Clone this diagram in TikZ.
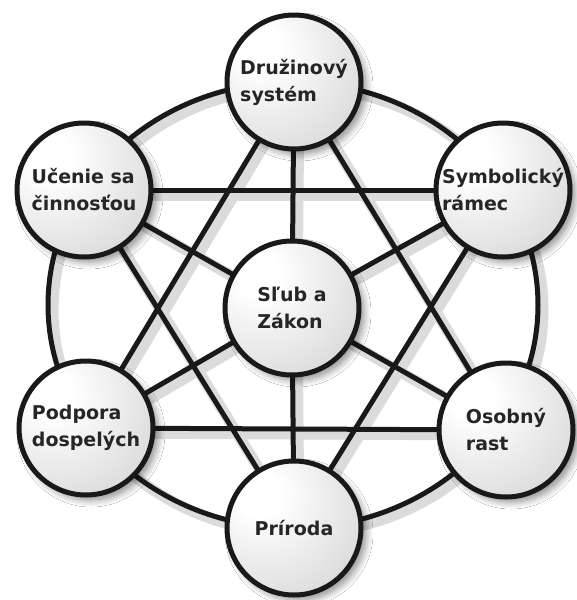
\documentclass[tikz,border=0pt]{standalone}
\usepackage{fontspec}
\setmainfont{DejaVu Sans}
\usetikzlibrary{shadows.blur}
\pgfdeclarelayer{bg}
\pgfsetlayers{bg,main}
\pgfdeclareradialshading{sphere}{\pgfpoint{-14bp}{14bp}}{color(0bp)=(white); color(8bp)=(white); color(40bp)=(black!15); color(70bp)=(black!40); color(100bp)=(black!40)}
\tikzset{
  ball/.style={circle, draw=black!90, line width=5pt, minimum size=134pt, inner sep=0pt,
    shading=sphere,
    blur shadow={shadow xshift=5pt, shadow yshift=-5pt, shadow blur steps=8, shadow opacity=45, shadow blur radius=7pt},
    font=\bfseries\fontsize{19}{27}\selectfont, align=left, text=black!85},
  link/.style={line width=5pt, draw=black!90},
  linkshadow/.style={line width=11pt, draw=black!14, transform canvas={shift={(5pt,-5pt)}}},
}
\begin{document}
\begin{tikzpicture}[x=1pt,y=-1pt]
\useasboundingbox (0,0) rectangle (577,600);
\coordinate (O) at (293,305);
\node[ball] (T)  at (294,82)  {Družinový\\systém};
\node[ball] (UL) at (84,190)  {Učenie sa\\činnosťou};
\node[ball] (UR) at (503,190) {Symbolický\\rámec};
\node[ball] (C)  at (292,308) {Sľub a\\Zákon};
\node[ball] (LL) at (86,428)  {Podpora\\dospelých};
\node[ball] (LR) at (506,430) {Osobný\\rast};
\node[ball] (B)  at (294,528) {Príroda};
\begin{pgfonlayer}{bg}
  \fill[white] (0,0) rectangle (577,600);
  % shadows of the connectors
  \draw[linkshadow] (O) ellipse [x radius=245pt, y radius=223pt];
  \foreach \a/\b in {T/LL,T/LR,LL/LR,UL/UR,UL/B,UR/B,C/T,C/UL,C/UR,C/LL,C/LR,C/B}
    \draw[linkshadow] (\a.center) -- (\b.center);
  % connectors
  \draw[link] (O) ellipse [x radius=245pt, y radius=223pt];
  \foreach \a/\b in {T/LL,T/LR,LL/LR,UL/UR,UL/B,UR/B,C/T,C/UL,C/UR,C/LL,C/LR,C/B}
    \draw[link] (\a.center) -- (\b.center);
\end{pgfonlayer}
\end{tikzpicture}
\end{document}
